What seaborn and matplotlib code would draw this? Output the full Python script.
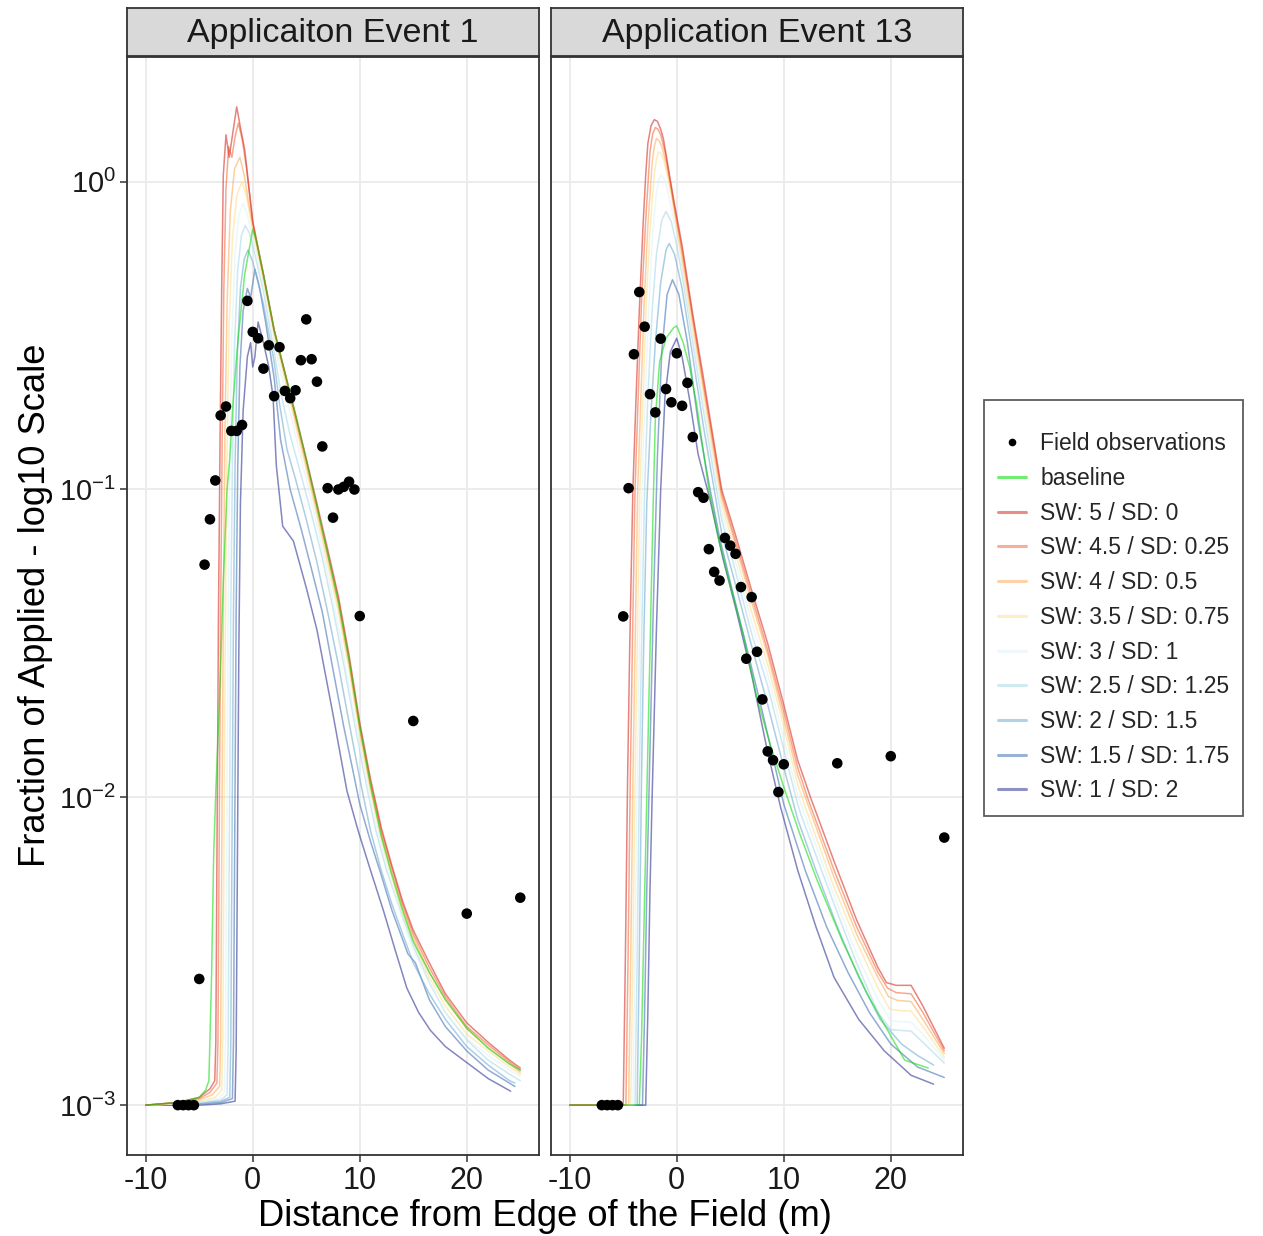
import matplotlib
matplotlib.use("Agg")
import matplotlib.pyplot as plt
from matplotlib.lines import Line2D
import pandas as pd
import seaborn as sns

# ---------------------------------------------------------------------------
# Scenario labels and colours
# ---------------------------------------------------------------------------
scenarios = ["baseline", "SW: 5 / SD: 0", "SW: 4.5 / SD: 0.25", "SW: 4 / SD: 0.5",
             "SW: 3.5 / SD: 0.75", "SW: 3 / SD: 1", "SW: 2.5 / SD: 1.25",
             "SW: 2 / SD: 1.5", "SW: 1.5 / SD: 1.75", "SW: 1 / SD: 2"]
scenario_colors = ["#00dd00", "#d73027", "#f46d43", "#fdae61", "#fee090",
                   "#e0f3f8", "#abd9e9", "#74add1", "#4575b4", "#313695"]

# ---------------------------------------------------------------------------
# Modelled deposition curves, Event 1  (distance m, fraction of applied)
# ---------------------------------------------------------------------------
ev1_baseline = [(-10, 1.0e-3), (-7, 1.02e-3), (-5, 1.06e-3), (-4.4, 1.12e-3), (-4.1, 1.2e-3),
                (-3.85, 2.6e-3), (-3.65, 6.5e-3), (-3.45, 0.0105), (-3.1, 0.021), (-2.75, 0.05),
                (-2.4, 0.1), (-2.15, 0.125), (-1.85, 0.19), (-1.4, 0.3), (-0.75, 0.5), (0, 0.7),
                (0.3, 0.65), (1, 0.5), (2, 0.33), (3, 0.24), (4, 0.175), (5, 0.125), (6, 0.088),
                (7, 0.062), (8, 0.043), (9, 0.028), (10, 0.017), (11, 0.011), (12, 0.0075),
                (13, 0.0056), (14, 0.0043), (15, 0.0034), (16.5, 0.0027), (18, 0.0022),
                (20, 0.00178), (22, 0.00153), (24, 0.00136), (25, 0.0013)]
ev1_sw50 = [(-10, 1.0e-3), (-7, 1.02e-3), (-5, 1.06e-3), (-4, 1.13e-3), (-3.55, 1.2e-3),
            (-3.45, 1.6e-3), (-3.35, 0.006), (-3.2, 0.04), (-3.05, 0.15), (-2.9, 0.45),
            (-2.75, 1.05), (-2.5, 1.42), (-2.2, 1.2), (-1.85, 1.45), (-1.5, 1.75), (-1.15, 1.5),
            (-0.75, 1.27), (-0.3, 0.92), (0, 0.74), (1, 0.5), (2, 0.33), (3, 0.24), (4, 0.175),
            (5, 0.126), (6, 0.09), (7, 0.064), (8, 0.045), (9, 0.029), (10, 0.0175),
            (11, 0.0115), (12, 0.008), (13, 0.006), (14, 0.0046), (15, 0.0037), (16.5, 0.0029),
            (18, 0.0023), (20, 0.00185), (22, 0.0016), (24, 0.0014), (25, 0.00132)]
ev1_sw45 = [(-10, 1.0e-3), (-7, 1.02e-3), (-5, 1.05e-3), (-4, 1.1e-3), (-3.35, 1.18e-3),
            (-3.25, 1.6e-3), (-3.15, 0.006), (-3.0, 0.04), (-2.85, 0.15), (-2.7, 0.45),
            (-2.5, 0.95), (-2.25, 1.3), (-1.95, 1.2), (-1.65, 1.4), (-1.35, 1.55), (-1.0, 1.38),
            (-0.6, 1.12), (-0.2, 0.85), (0, 0.74), (1, 0.5), (2, 0.33), (3, 0.24), (4, 0.172),
            (5, 0.124), (6, 0.088), (7, 0.062), (8, 0.044), (9, 0.028), (10, 0.017),
            (11, 0.0112), (12, 0.0078), (13, 0.0059), (14, 0.0045), (15, 0.0036),
            (16.5, 0.0028), (18, 0.00225), (20, 0.0018), (22, 0.00157), (24, 0.00138),
            (25, 0.0013)]
ev1_sw40 = [(-10, 1.0e-3), (-7, 1.02e-3), (-5, 1.04e-3), (-3.8, 1.08e-3), (-3.1, 1.15e-3),
            (-3.0, 1.6e-3), (-2.9, 0.006), (-2.75, 0.04), (-2.6, 0.15), (-2.4, 0.4),
            (-2.1, 0.8), (-1.7, 1.1), (-1.2, 1.2), (-0.8, 1.05), (-0.3, 0.82), (0, 0.72),
            (1, 0.49), (2, 0.325), (3, 0.235), (4, 0.168), (5, 0.12), (6, 0.085), (7, 0.06),
            (8, 0.042), (9, 0.027), (10, 0.0165), (11, 0.0108), (12, 0.0076), (13, 0.0057),
            (14, 0.0044), (15, 0.0035), (16.5, 0.0027), (18, 0.0022), (20, 0.00177),
            (22, 0.00154), (24, 0.00136), (25, 0.00128)]
ev1_sw35 = [(-10, 1.0e-3), (-7, 1.01e-3), (-5, 1.03e-3), (-3.5, 1.06e-3), (-2.9, 1.12e-3),
            (-2.8, 1.6e-3), (-2.7, 0.006), (-2.55, 0.04), (-2.4, 0.14), (-2.2, 0.35),
            (-1.9, 0.65), (-1.5, 0.9), (-1.0, 1.0), (-0.6, 0.9), (-0.2, 0.76), (0, 0.7),
            (1, 0.48), (2, 0.318), (3, 0.228), (4, 0.162), (5, 0.116), (6, 0.082), (7, 0.057),
            (8, 0.04), (9, 0.026), (10, 0.016), (11, 0.0104), (12, 0.0073), (13, 0.0055),
            (14, 0.0042), (15, 0.0034), (16.5, 0.0026), (18, 0.0021), (20, 0.0017),
            (22, 0.0015), (24, 0.00133), (25, 0.00126)]
ev1_sw30 = [(-10, 1.0e-3), (-7, 1.01e-3), (-5, 1.02e-3), (-3.2, 1.05e-3), (-2.65, 1.1e-3),
            (-2.55, 1.6e-3), (-2.45, 0.006), (-2.3, 0.04), (-2.15, 0.13), (-1.95, 0.32),
            (-1.65, 0.58), (-1.3, 0.78), (-0.9, 0.85), (-0.5, 0.78), (0, 0.66), (1, 0.46),
            (2, 0.3), (3, 0.21), (4, 0.15), (5, 0.108), (6, 0.077), (7, 0.053), (8, 0.036),
            (9, 0.023), (10, 0.0148), (11, 0.0097), (12, 0.007), (13, 0.0052), (14, 0.004),
            (15, 0.0032), (16.5, 0.0025), (18, 0.002), (20, 0.00165), (22, 0.00145),
            (24, 0.0013), (25, 0.00124)]
ev1_sw25 = [(-10, 1.0e-3), (-7, 1.01e-3), (-5, 1.02e-3), (-3, 1.04e-3), (-2.4, 1.08e-3),
            (-2.3, 1.6e-3), (-2.2, 0.006), (-2.05, 0.04), (-1.9, 0.12), (-1.7, 0.3),
            (-1.4, 0.52), (-1.05, 0.67), (-0.7, 0.72), (-0.3, 0.68), (0, 0.62), (1, 0.44),
            (2, 0.28), (2.7, 0.2), (3.5, 0.15), (4.5, 0.112), (5.5, 0.083), (6.5, 0.06),
            (7.5, 0.041), (8.5, 0.027), (9.5, 0.0175), (10.5, 0.0115), (11.5, 0.0078),
            (12.5, 0.0058), (14, 0.0041), (15, 0.0033), (16.5, 0.0025), (18, 0.002),
            (20, 0.00163), (22, 0.0014), (24, 0.00126), (25, 0.0012)]
ev1_sw20 = [(-10, 1.0e-3), (-7, 1.01e-3), (-5, 1.02e-3), (-3, 1.03e-3), (-2.15, 1.06e-3),
            (-2.05, 1.6e-3), (-1.95, 0.006), (-1.8, 0.04), (-1.65, 0.12), (-1.45, 0.27),
            (-1.15, 0.45), (-0.8, 0.56), (-0.45, 0.6), (0, 0.55), (1, 0.4), (2, 0.26),
            (2.5, 0.19), (3.2, 0.135), (4, 0.108), (5, 0.08), (6, 0.058), (7, 0.04),
            (8, 0.027), (9, 0.0175), (10, 0.0115), (11, 0.0078), (12, 0.0058), (13, 0.0045),
            (14, 0.0036), (15, 0.0029), (16.5, 0.0023), (18, 0.0019), (20, 0.00155),
            (22, 0.00135), (24, 0.0012), (24.5, 0.00118)]
ev1_sw15 = [(-10, 1.0e-3), (-7, 1.0e-3), (-5, 1.01e-3), (-3, 1.02e-3), (-1.9, 1.05e-3),
            (-1.8, 1.6e-3), (-1.7, 0.006), (-1.55, 0.04), (-1.4, 0.12), (-1.2, 0.25),
            (-0.9, 0.38), (-0.5, 0.45), (-0.2, 0.42), (0.2, 0.52), (0.6, 0.46), (1.2, 0.35),
            (2, 0.23), (2.6, 0.145), (3.5, 0.1), (4.5, 0.075), (5.5, 0.055), (6.5, 0.04),
            (7.5, 0.026), (8.5, 0.017), (9.3, 0.0125), (10, 0.0095), (11, 0.0072),
            (12, 0.0056), (13, 0.0043), (14.5, 0.0031), (15.2, 0.0029), (16.5, 0.0022),
            (18, 0.0018), (20, 0.0015), (22, 0.0013), (24.5, 0.00115)]
ev1_sw10 = [(-10, 1.0e-3), (-7, 1.0e-3), (-5, 1.0e-3), (-3, 1.01e-3), (-1.65, 1.03e-3),
            (-1.55, 1.5e-3), (-1.45, 0.005), (-1.3, 0.03), (-1.15, 0.09), (-0.9, 0.18),
            (-0.5, 0.27), (-0.2, 0.3), (0, 0.25), (0.2, 0.27), (0.5, 0.35), (1, 0.3),
            (1.5, 0.25), (1.9, 0.2), (2.2, 0.12), (2.8, 0.076), (3.8, 0.068), (5, 0.048),
            (6, 0.035), (7.5, 0.0186), (8.8, 0.0105), (9.8, 0.0079), (10.1, 0.0073),
            (11, 0.0058), (12.2, 0.0043), (13.3, 0.0032), (14.4, 0.0024), (15.5, 0.002),
            (16.6, 0.00175), (18, 0.00155), (19.7, 0.0014), (22, 0.00122), (24.1, 0.00111)]

# ---------------------------------------------------------------------------
# Modelled deposition curves, Event 13
# ---------------------------------------------------------------------------
ev13_baseline = [(-10, 1.0e-3), (-3.5, 1.0e-3), (-3.3, 1.6e-3), (-3.05, 0.004), (-2.8, 0.01),
                 (-2.5, 0.03), (-2.2, 0.09), (-2.0, 0.17), (-1.6, 0.26), (-1.0, 0.31),
                 (-0.3, 0.335), (0, 0.34), (0.6, 0.3), (1.2, 0.25), (1.85, 0.19), (3, 0.1),
                 (4, 0.067), (5, 0.049), (6.2, 0.034), (7.5, 0.021), (8.7, 0.015),
                 (10, 0.0108), (11.5, 0.0076), (13.1, 0.0054), (15.5, 0.0034), (17.8, 0.0023),
                 (19.5, 0.0018), (21.3, 0.0014), (23.5, 0.00132)]
ev13_sw50 = [(-10, 1.0e-3), (-5.0, 1.0e-3), (-4.8, 0.003), (-4.6, 0.011), (-4.4, 0.03),
             (-4.1, 0.1), (-3.8, 0.2), (-3.5, 0.38), (-3.15, 0.72), (-2.9, 1.05), (-2.7, 1.33),
             (-2.4, 1.52), (-2.1, 1.59), (-1.8, 1.57), (-1.5, 1.48), (-1.25, 1.38),
             (-0.95, 1.2), (-0.66, 1.04), (-0.3, 0.88), (0.5, 0.62), (1.5, 0.37),
             (2.5, 0.23), (3.3, 0.155), (4.2, 0.1), (5.5, 0.071), (7, 0.047), (8.5, 0.0316),
             (10, 0.02), (11.3, 0.0132), (12.5, 0.01), (14.7, 0.0062), (16.8, 0.004),
             (18.8, 0.0028), (19.6, 0.0025), (20.5, 0.00245), (21.9, 0.00245), (23, 0.0021),
             (25, 0.00153)]
ev13_sw45 = [(-10, 1.0e-3), (-4.75, 1.0e-3), (-4.55, 0.003), (-4.35, 0.011), (-4.15, 0.03),
             (-3.9, 0.1), (-3.6, 0.2), (-3.3, 0.4), (-2.9, 0.75), (-2.5, 1.25), (-2.25, 1.43),
             (-2.0, 1.5), (-1.75, 1.48), (-1.5, 1.42), (-1.1, 1.25), (-0.6, 1.0), (-0.3, 0.86),
             (0.5, 0.6), (1.5, 0.36), (2.5, 0.22), (3.3, 0.15), (4.2, 0.097), (5.5, 0.068),
             (7, 0.045), (8.5, 0.03), (10, 0.019), (11.3, 0.0125), (12.3, 0.0098),
             (14.7, 0.0058), (16.8, 0.0038), (18.8, 0.0027), (19.7, 0.0024), (20.5, 0.00232),
             (21.9, 0.0023), (23, 0.002), (25, 0.0015)]
ev13_sw40 = [(-10, 1.0e-3), (-4.5, 1.0e-3), (-4.3, 0.003), (-4.1, 0.011), (-3.9, 0.03),
             (-3.65, 0.1), (-3.35, 0.2), (-3.05, 0.4), (-2.7, 0.72), (-2.3, 1.15),
             (-2.1, 1.3), (-1.9, 1.38), (-1.65, 1.36), (-1.4, 1.3), (-1.0, 1.15), (-0.5, 0.93),
             (0.5, 0.58), (1.5, 0.35), (2.5, 0.215), (3.3, 0.145), (4.2, 0.094), (5.5, 0.066),
             (7, 0.043), (8.5, 0.029), (10, 0.018), (11.3, 0.0118), (12.2, 0.0096),
             (14.7, 0.0055), (16.8, 0.0036), (18.8, 0.0026), (19.8, 0.00225), (20.6, 0.00219),
             (21.9, 0.00217), (23, 0.0019), (25, 0.00147)]
ev13_sw35 = [(-10, 1.0e-3), (-4.3, 1.0e-3), (-4.1, 0.003), (-3.9, 0.011), (-3.7, 0.03),
             (-3.45, 0.1), (-3.15, 0.2), (-2.85, 0.4), (-2.5, 0.7), (-2.1, 1.05),
             (-1.9, 1.18), (-1.7, 1.25), (-1.45, 1.23), (-1.2, 1.17), (-0.8, 1.02),
             (-0.4, 0.86), (0.5, 0.55), (1.5, 0.33), (2.5, 0.205), (3.3, 0.138), (4.2, 0.09),
             (5.5, 0.062), (7, 0.04), (8.5, 0.027), (10, 0.017), (11.3, 0.011), (12, 0.0093),
             (14.7, 0.0051), (16.8, 0.0034), (18.8, 0.0024), (19.9, 0.00205),
             (20.7, 0.00203), (21.9, 0.00202), (23, 0.0018), (25, 0.00143)]
ev13_sw30 = [(-10, 1.0e-3), (-4.1, 1.0e-3), (-3.9, 0.003), (-3.7, 0.011), (-3.5, 0.03),
             (-3.25, 0.1), (-2.95, 0.2), (-2.6, 0.4), (-2.25, 0.68), (-1.9, 0.92),
             (-1.7, 1.0), (-1.5, 1.05), (-1.25, 1.03), (-1.0, 0.98), (-0.5, 0.82), (0, 0.68),
             (0.5, 0.53), (1.5, 0.31), (2.5, 0.19), (3.3, 0.13), (4.2, 0.085), (5.5, 0.058),
             (7, 0.037), (8.5, 0.025), (10, 0.0155), (11.3, 0.0102), (11.8, 0.0091),
             (14.7, 0.0048), (16.8, 0.0031), (18.8, 0.0022), (20, 0.00188), (20.8, 0.00187),
             (21.9, 0.00186), (23, 0.0017), (25, 0.0014)]
ev13_sw25 = [(-10, 1.0e-3), (-3.9, 1.0e-3), (-3.7, 0.003), (-3.5, 0.011), (-3.3, 0.03),
             (-3.0, 0.1), (-2.7, 0.2), (-2.3, 0.38), (-1.9, 0.58), (-1.4, 0.75), (-1.0, 0.8),
             (-0.5, 0.74), (0, 0.62), (0.5, 0.5), (1.5, 0.3), (2.5, 0.18), (3.3, 0.122),
             (4.2, 0.08), (5.5, 0.054), (7, 0.034), (8.5, 0.023), (10, 0.0143), (11.3, 0.0095),
             (11.6, 0.0088), (14.7, 0.0045), (16.8, 0.0029), (18.8, 0.002), (20, 0.00176),
             (20.8, 0.00175), (21.9, 0.00174), (23, 0.0016), (25, 0.00137)]
ev13_sw20 = [(-10, 1.0e-3), (-3.7, 1.0e-3), (-3.5, 0.003), (-3.3, 0.011), (-3.1, 0.03),
             (-2.8, 0.09), (-2.4, 0.18), (-2.0, 0.3), (-1.5, 0.47), (-1.0, 0.6), (-0.7, 0.63),
             (-0.2, 0.58), (0.5, 0.45), (1.5, 0.27), (2.5, 0.16), (3.3, 0.11), (4.2, 0.072),
             (5.5, 0.049), (7, 0.031), (8.5, 0.02), (10, 0.0125), (11.3, 0.0085), (13, 0.0058),
             (15, 0.0038), (17, 0.0026), (19, 0.0019), (21, 0.00158), (22.5, 0.00145),
             (24, 0.00135)]
ev13_sw15 = [(-10, 1.0e-3), (-3.2, 1.0e-3), (-3.0, 0.002), (-2.8, 0.005), (-2.55, 0.012),
             (-2.2, 0.04), (-1.8, 0.13), (-1.4, 0.28), (-0.9, 0.43), (-0.4, 0.48), (0.2, 0.43),
             (1, 0.3), (2, 0.165), (3, 0.105), (4, 0.07), (5, 0.05), (6.5, 0.031), (8, 0.019),
             (10, 0.0095), (12, 0.0058), (14, 0.0038), (16, 0.0027), (18, 0.002),
             (20, 0.00158), (22.5, 0.00133), (25, 0.00123)]
ev13_sw10 = [(-10, 1.0e-3), (-2.9, 1.0e-3), (-2.7, 0.002), (-2.5, 0.005), (-2.3, 0.01),
             (-1.9, 0.035), (-1.5, 0.1), (-1.1, 0.2), (-0.6, 0.28), (0, 0.31), (0.5, 0.27),
             (1.2, 0.196), (2, 0.13), (3.1, 0.093), (4.3, 0.06), (5.6, 0.04), (7, 0.025),
             (8.5, 0.014), (9.7, 0.0093), (11.3, 0.0058), (13, 0.0038), (14.7, 0.0026),
             (17, 0.0019), (19.4, 0.0015), (21.9, 0.00125), (24, 0.00117)]

# ---------------------------------------------------------------------------
# Field observations
# ---------------------------------------------------------------------------
ev1_obs_x = [-7, -6.5, -6, -5.5, -5, -4.5, -4, -3.5, -3, -2.5, -2, -1.5, -1, -0.5, 0, 0.5,
             1, 1.5, 2, 2.5, 3, 3.5, 4, 4.5, 5, 5.5, 6, 6.5, 7, 7.5, 8, 8.5, 9, 9.5, 10,
             15, 20, 25]
ev1_obs_y = [1e-3, 1e-3, 1e-3, 1e-3, 2.57e-3, 0.057, 0.080, 0.107, 0.174, 0.186, 0.155,
             0.155, 0.162, 0.41, 0.325, 0.31, 0.247, 0.294, 0.201, 0.29, 0.209, 0.198, 0.21,
             0.263, 0.357, 0.265, 0.224, 0.138, 0.101, 0.081, 0.1, 0.102, 0.106, 0.1, 0.0388,
             0.0177, 0.00419, 0.00472]
ev13_obs_x = [-7, -6.5, -6, -5.5, -5, -4.5, -4, -3.5, -3, -2.5, -2, -1.5, -1, -0.5, 0, 0.5,
              1, 1.5, 2, 2.5, 3, 3.5, 4, 4.5, 5, 5.5, 6, 6.5, 7, 7.5, 8, 8.5, 9, 9.5, 10,
              15, 20, 25]
ev13_obs_y = [1e-3, 1e-3, 1e-3, 1e-3, 0.0387, 0.101, 0.275, 0.438, 0.338, 0.204, 0.178,
              0.309, 0.212, 0.192, 0.277, 0.187, 0.222, 0.148, 0.098, 0.094, 0.064, 0.054,
              0.0506, 0.0696, 0.0657, 0.0618, 0.0482, 0.0282, 0.0447, 0.0297, 0.0208,
              0.0141, 0.0132, 0.0104, 0.0128, 0.0129, 0.0136, 0.0074]

panel_titles = ["Applicaiton Event 1", "Application Event 13"]
x_ticks = [-10, 0, 10, 20]
y_ticks = [1e-3, 1e-2, 1e-1, 1e0]
y_ticklabels = ["$10^{-3}$", "$10^{-2}$", "$10^{-1}$", "$10^{0}$"]

ev1_curves = [ev1_baseline, ev1_sw50, ev1_sw45, ev1_sw40, ev1_sw35, ev1_sw30, ev1_sw25,
              ev1_sw20, ev1_sw15, ev1_sw10]
ev13_curves = [ev13_baseline, ev13_sw50, ev13_sw45, ev13_sw40, ev13_sw35, ev13_sw30,
               ev13_sw25, ev13_sw20, ev13_sw15, ev13_sw10]


def curves_frame(curves):
    rows = []
    for name, pts in zip(scenarios, curves):
        for order, (x, y) in enumerate(pts):
            rows.append({"scenario": name, "x": x, "y": y, "order": order})
    return pd.DataFrame(rows)


sns.set_theme(style="white")
plt.rcParams["font.family"] = ["Liberation Sans", "DejaVu Sans"]
plt.rcParams["mathtext.default"] = "regular"

fig = plt.figure(figsize=(12.63, 12.36), dpi=100)
W, H = 1263, 1236
panel_left = [127, 551]
panel_w = 412
panel_top, panel_bottom = 57, 1155
strip_top = 8

palette = dict(zip(scenarios, scenario_colors))
# draw order: blues first, baseline last among model lines
draw_order = scenarios[::-1]

for i, (curves, ox, oy) in enumerate([(ev1_curves, ev1_obs_x, ev1_obs_y),
                                       (ev13_curves, ev13_obs_x, ev13_obs_y)]):
    left = panel_left[i] / W
    ax = fig.add_axes([left, 1 - panel_bottom / H, panel_w / W,
                       (panel_bottom - panel_top) / H])
    df = curves_frame(curves)
    for name in draw_order:
        sub = df[df["scenario"] == name]
        sns.lineplot(data=sub, x="x", y="y", color=palette[name], estimator=None,
                     sort=False, linewidth=1.1, alpha=0.6 if name != "baseline" else 0.55,
                     ax=ax, legend=False)
    obs = pd.DataFrame({"x": ox, "y": oy})
    sns.scatterplot(data=obs, x="x", y="y", color="black", s=58, edgecolor="none",
                    ax=ax, legend=False, zorder=5)

    ax.set_yscale("log")
    ax.set_xlim(-11.75, 26.75)
    ax.set_ylim(10 ** -3.162, 10 ** 0.405)
    ax.set_xticks(x_ticks)
    ax.set_xticklabels([str(t) for t in x_ticks])
    ax.set_yticks(y_ticks)
    ax.minorticks_off()
    ax.grid(True, which="major", color="#ebebeb", linewidth=1.3)
    ax.set_axisbelow(True)
    ax.set_xlabel("")
    ax.set_ylabel("")
    for sp in ax.spines.values():
        sp.set_color("#333333")
        sp.set_linewidth(1.3)
    ax.tick_params(axis="x", length=5, width=1.1, color="#333333", labelsize=22,
                   labelcolor="#1a1a1a", pad=3, bottom=True)
    if i == 0:
        ax.set_yticklabels(y_ticklabels)
        ax.tick_params(axis="y", length=5, width=1.1, color="#333333", labelsize=21,
                       labelcolor="#1a1a1a", pad=3, left=True)
    else:
        ax.tick_params(axis="y", left=False, labelleft=False)

    # facet strip
    sax = fig.add_axes([left, 1 - (panel_top - 1) / H, panel_w / W,
                        (panel_top - 1 - strip_top) / H])
    sax.set_facecolor("#d9d9d9")
    sax.set_xticks([])
    sax.set_yticks([])
    for sp in sax.spines.values():
        sp.set_color("#333333")
        sp.set_linewidth(1.3)
    sax.text(0.5, 0.47, panel_titles[i], ha="center", va="center", fontsize=24.5,
             color="#1a1a1a", transform=sax.transAxes)

fig.text(36 / W, 1 - 605 / H, "Fraction of Applied - log10 Scale", rotation=90,
         ha="center", va="center", fontsize=26.2, color="black")
fig.text(545 / W, 1 - 1216 / H, "Distance from Edge of the Field (m)",
         ha="center", va="center", fontsize=26.2, color="black")

handles = [Line2D([], [], marker="o", color="black", linestyle="none", markersize=4.5)]
for name in scenarios:
    handles.append(Line2D([], [], color=palette[name], linewidth=2.2, alpha=0.55))
labels = ["Field observations"] + scenarios
leg = fig.legend(handles, labels, loc="upper left",
                 bbox_to_anchor=(984 / W, 1 - 400 / H), fontsize=16.5, frameon=True,
                 fancybox=False, edgecolor="#333333", handlelength=1.25,
                 handletextpad=0.6, labelspacing=0.51, borderpad=0.6,
                 borderaxespad=0, title=" ", title_fontsize=5)
leg.get_frame().set_linewidth(1.3)

fig.savefig("out.png", dpi=100)
